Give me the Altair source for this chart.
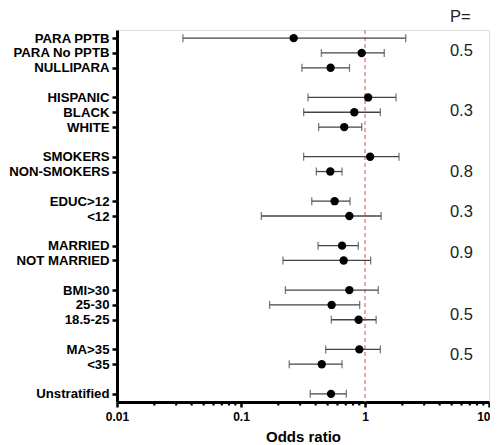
import json
import altair as alt
import pandas as pd

labels = ["PARA PPTB", "PARA No PPTB", "NULLIPARA", "HISPANIC", "BLACK", "WHITE",
          "SMOKERS", "NON-SMOKERS", "EDUC>12", "<12", "MARRIED", "NOT MARRIED",
          "BMI>30", "25-30", "18.5-25", "MA>35", "<35", "Unstratified"]
slots = [0, 1, 2, 4, 5, 6, 8, 9, 11, 12, 14, 15, 17, 18, 19, 21, 22, 24]
odds = [0.266, 0.94, 0.528, 1.06, 0.82, 0.68, 1.10, 0.525, 0.569, 0.748,
        0.653, 0.673, 0.748, 0.538, 0.889, 0.90, 0.448, 0.532]
ci_low = [0.034, 0.445, 0.31, 0.347, 0.32, 0.423, 0.32, 0.405, 0.372, 0.146,
          0.418, 0.218, 0.228, 0.170, 0.535, 0.482, 0.245, 0.362]
ci_high = [2.13, 1.43, 0.75, 1.78, 1.33, 0.94, 1.88, 0.653, 0.757, 1.35,
           0.883, 1.11, 1.28, 0.906, 1.23, 1.33, 0.653, 0.707]

p_text = ["P=", "0.5", "0.3", "0.8", "0.3", "0.9", "0.5", "0.5"]
p_slots = [-1.43, 0.86, 4.93, 9.04, 11.74, 14.5, 18.7, 21.4]
p_x = 4.84

major_ticks = [0.01, 0.1, 1, 10]
minor_ticks = [m * d for d in (0.01, 0.1, 1) for m in range(2, 10)]

W, H = 372, 372
FONT = "Liberation Sans"

df = pd.DataFrame({"label": labels, "slot": slots, "odds": odds,
                   "lo": ci_low, "hi": ci_high})
pdf = pd.DataFrame({"text": p_text, "slot": p_slots, "x": [p_x] * len(p_text)})
mdf = pd.DataFrame({"m": minor_ticks})
refdf = pd.DataFrame({"ref": [1.0]})

name_arr = [""] * 25
for s, l in zip(slots, labels):
    name_arr[s] = l
label_expr = json.dumps(name_arr) + "[datum.value]"

xscale = alt.Scale(type="log", domain=[0.01, 10])
yscale = alt.Scale(domain=[-0.55, 24.55], reverse=True)

xaxis = alt.Axis(values=major_ticks, format="~g", tickSize=5, tickWidth=2.5,
                 domainWidth=3, domainColor="black", tickColor="black",
                 labelFont=FONT, labelFontSize=12, labelFontWeight="bold",
                 labelColor="black", labelPadding=4, labelFlush=False, grid=False,
                 labelAlign={"condition": {"test": "datum.value >= 10", "value": "right"},
                             "value": "center"},
                 labelOffset={"condition": {"test": "datum.value >= 10", "value": 1},
                              "value": 0},
                 title="Odds ratio", titleFont=FONT, titleFontSize=15,
                 titleFontWeight="bold", titleColor="black", titlePadding=7)
yaxis = alt.Axis(values=slots, labelExpr=label_expr, tickSize=5, tickWidth=2.5,
                 domainWidth=3, domainColor="black", tickColor="black",
                 labelFont=FONT, labelFontSize=13.2, labelFontWeight="bold",
                 labelColor="black", labelPadding=3, grid=False, title=None)

base = alt.Chart(df)

ref = alt.Chart(refdf).mark_rule(color="#e07a7a", strokeDash=[4, 3], strokeWidth=1.3).encode(
    x=alt.X("ref:Q", scale=xscale, axis=xaxis),
    y=alt.value(0), y2=alt.value(H))

bars = base.mark_rule(color="#444444", strokeWidth=1.3).encode(
    x=alt.X("lo:Q", scale=xscale, axis=xaxis),
    x2="hi:Q",
    y=alt.Y("slot:Q", scale=yscale, axis=yaxis))

cap_lo = base.mark_tick(color="#444444", orient="vertical", size=8, thickness=1.3).encode(
    x=alt.X("lo:Q", scale=xscale, axis=xaxis),
    y=alt.Y("slot:Q", scale=yscale, axis=yaxis))
cap_hi = base.mark_tick(color="#444444", orient="vertical", size=8, thickness=1.3).encode(
    x=alt.X("hi:Q", scale=xscale, axis=xaxis),
    y=alt.Y("slot:Q", scale=yscale, axis=yaxis))

pts = base.mark_circle(color="black", size=70, opacity=1).encode(
    x=alt.X("odds:Q", scale=xscale, axis=xaxis),
    y=alt.Y("slot:Q", scale=yscale, axis=yaxis))

minor = alt.Chart(mdf).mark_rule(color="black", strokeWidth=2.2).encode(
    x=alt.X("m:Q", scale=xscale, axis=xaxis),
    y=alt.value(H), y2=alt.value(H + 3.5))

ptxt = alt.Chart(pdf).mark_text(align="left", baseline="middle", font=FONT,
                                fontSize=16.5, color="#222222").encode(
    x=alt.X("x:Q", scale=xscale, axis=xaxis),
    y=alt.Y("slot:Q", scale=yscale, axis=yaxis),
    text="text:N")

chart = alt.layer(ref, bars, cap_lo, cap_hi, pts, minor, ptxt).properties(
    width=W, height=H,
    autosize=alt.AutoSizeParams(type="none"),
    padding={"left": 109, "top": 22, "right": 1, "bottom": 42},
).configure_view(stroke=None).configure(background="white")

chart.save("out.html", embed_options={"renderer": "svg", "actions": False})
